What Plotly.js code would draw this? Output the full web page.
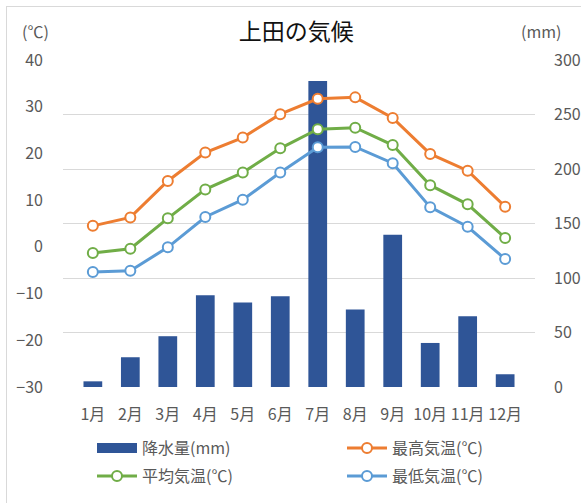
<!DOCTYPE html>
<html><head><meta charset="utf-8">
<script src="https://cdn.plot.ly/plotly-3.0.1.min.js"></script>
<style>
html,body{margin:0;padding:0;background:#fff;}
#chart{width:581px;height:503px;}
#frame{position:absolute;left:6px;top:6px;width:580px;height:500px;border:1px solid #d9d9d9;pointer-events:none;}
</style></head>
<body>
<div id="chart"></div>
<div id="frame"></div>
<script>
const months = ["1月","2月","3月","4月","5月","6月","7月","8月","9月","10月","11月","12月"];
const precip = [5.2, 27.3, 46.6, 84.2, 77.5, 83.3, 280.7, 71.1, 139.6, 40.4, 64.9, 11.7];
const tMax = [4.5, 6.3, 14.1, 20.2, 23.4, 28.4, 31.7, 32.0, 27.6, 19.9, 16.3, 8.6];
const tAvg = [-1.3, -0.4, 6.1, 12.3, 15.9, 21.1, 25.2, 25.5, 21.8, 13.2, 9.1, 1.9];
const tMin = [-5.4, -5.1, -0.1, 6.4, 10.1, 15.9, 21.3, 21.4, 17.9, 8.5, 4.3, -2.6];

const FONT = "'Noto Sans CJK JP', 'Noto Sans', sans-serif";
const GREY = "#595959";
const BAR = "#2F5597";

function lineTrace(name, y, color, leg){
  return {type:'scatter', mode:'lines+markers', name:name, x:months, y:y, yaxis:'y2', legend:leg,
    line:{color:color, width:3},
    marker:{symbol:'circle', size:10, color:'#ffffff', line:{color:color, width:2}}};
}

const data = [
  {type:'bar', name:'降水量(mm)', x:months, y:precip, yaxis:'y', marker:{color:BAR}, showlegend:false},
  {type:'scatter', mode:'lines', name:'降水量(mm)', x:[months[0]], y:[null], yaxis:'y',
    line:{color:BAR, width:11}, legend:'legend', showlegend:true},
  lineTrace('最高気温(℃)', tMax, '#ED7D31', 'legend2'),
  lineTrace('平均気温(℃)', tAvg, '#70AD47', 'legend3'),
  lineTrace('最低気温(℃)', tMin, '#5B9BD5', 'legend4')
];

function leg(xpx, ypx){
  return {orientation:'h', xref:'container', yref:'container', x:xpx/581, y:1-ypx/503,
    xanchor:'left', yanchor:'middle', itemwidth:40, bgcolor:'rgba(0,0,0,0)',
    font:{family:FONT, size:16, color:GREY}};
}

const layout = {
  width:581, height:503,
  margin:{l:63, r:46, t:60, b:116, autoexpand:false},
  paper_bgcolor:'#fff', plot_bgcolor:'#fff',
  font:{family:FONT, color:GREY, size:16},
  title:{text:'上田の気候', x:0.51, xanchor:'center', y:1-32/503, yanchor:'middle',
    font:{family:FONT, size:23, color:'#111', weight:'normal'}},
  bargap:0.5,
  showlegend:true,
  legend:leg(92, 448),
  legend2:leg(342, 448),
  legend3:leg(92, 476),
  legend4:leg(342, 476),
  xaxis:{type:'category', showgrid:false, zeroline:false, showline:false, ticks:'',
    tickfont:{size:16, color:GREY}, fixedrange:true, ticklabelstandoff:16, automargin:false},
  yaxis:{side:'right', range:[0,300], dtick:50, showgrid:true, gridcolor:'#d9d9d9', gridwidth:1,
    zeroline:false, showline:false, ticks:'', tickfont:{size:16, color:GREY}, ticklabelstandoff:18, automargin:false},
  yaxis2:{side:'left', overlaying:'y', range:[-30,40], dtick:10, showgrid:false, zeroline:false,
    showline:false, ticks:'', tickfont:{size:16, color:GREY}, ticklabelstandoff:19, automargin:false},
  annotations:[
    {text:'(℃)', xref:'paper', yref:'paper', x:-0.059, y:1.09, xanchor:'center', yanchor:'middle', showarrow:false, font:{size:16, color:GREY}},
    {text:'(mm)', xref:'paper', yref:'paper', x:1.013, y:1.09, xanchor:'center', yanchor:'middle', showarrow:false, font:{size:16, color:GREY}}
  ]
};

Plotly.newPlot('chart', data, layout, {displayModeBar:false, staticPlot:true});
</script>
</body></html>
